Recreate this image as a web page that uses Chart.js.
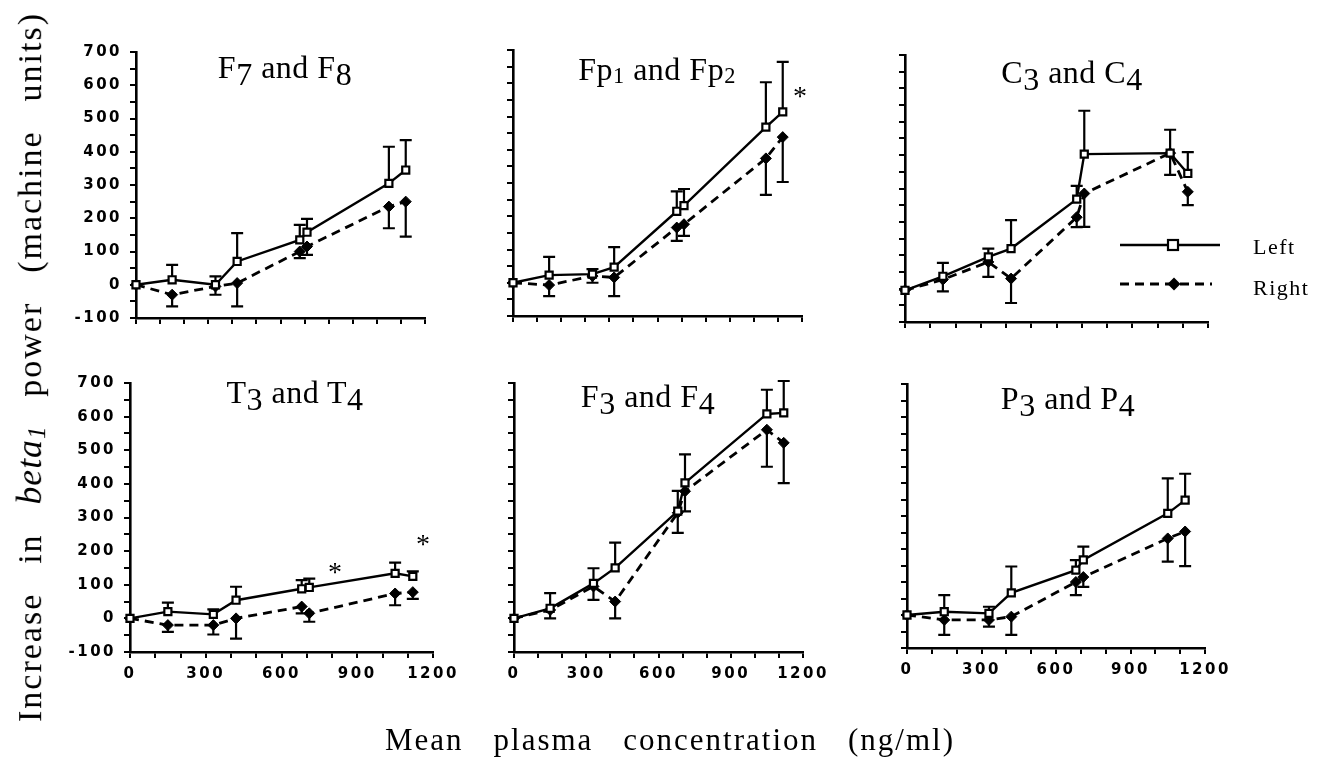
<!DOCTYPE html>
<html><head><meta charset="utf-8">
<script src="https://cdn.jsdelivr.net/npm/chart.js@4.4.1/dist/chart.umd.min.js"></script>
<style>
html,body{margin:0;padding:0;background:#fff;}
#wrap{position:relative;width:1326px;height:759px;overflow:hidden;background:#fff;}
canvas{position:absolute;left:0;top:0;}
.ttl{position:absolute;font-family:'Liberation Serif',serif;font-size:32px;letter-spacing:0.5px;color:#000;white-space:nowrap;transform:translate(-50%,-50%);line-height:1;}
.ttl .d{font-size:100%;position:relative;top:0.22em;}
.ttl .s{font-size:70%;position:relative;top:0.12em;}
#ylab{position:absolute;left:30px;top:367px;width:710px;font-family:'Liberation Serif',serif;font-size:34px;letter-spacing:2px;line-height:1;text-align:justify;text-align-last:justify;white-space:nowrap;transform:translate(-50%,-50%) rotate(-90deg);}
#ylab i{font-size:105%;letter-spacing:1px;}
#ylab i .s{font-size:70%;position:relative;top:0.15em;}
#xlab{position:absolute;left:670px;top:739px;width:570px;font-family:'Liberation Serif',serif;font-size:31px;letter-spacing:2px;line-height:1;text-align:justify;text-align-last:justify;white-space:nowrap;transform:translate(-50%,-50%);}
.leg{position:absolute;font-family:'Liberation Serif',serif;font-size:22px;letter-spacing:1.5px;line-height:1;transform:translateY(-50%);}
svg{position:absolute;left:0;top:0;}
</style></head>
<body><div id="wrap"></div>
<script>
// ---------- data ----------
const concentration = [0, 150, 330, 420, 680, 710, 1050, 1120];
const yTickLabels = ['-100','0','100','200','300','400','500','600','700'];
const xTickLabels = ['0','300','600','900','1200'];
const seriesNames = ['Left','Right'];

const f7Left      = [0, 15, 0, 70, 135, 158, 305, 345];
const f7LeftErr   = [0, 45, 25, 85, 45, 40, 110, 90];
const f7Right     = [0, -30, -5, 5, 100, 115, 235, 250];
const f7RightErr  = [0, 35, 25, 70, 20, 25, 65, 105];

const fpLeft      = [0, 23, 26, 47, 215, 232, 468, 514];
const fpLeftErr   = [0, 55, 15, 60, 60, 50, 135, 150];
const fpRight     = [0, -7, 20, 16, 166, 176, 374, 438];
const fpRightErr  = [0, 33, 20, 56, 40, 35, 110, 135];

const c3Left      = [-5, 37, 95, 120, 268, 403, 406, 345];
const c3LeftErr   = [0, 40, 25, 85, 40, 130, 70, 64];
const c3Right     = [-5, 27, 80, 30, 214, 285, 406, 290];
const c3RightErr  = [0, 35, 45, 73, 30, 100, 65, 40];

const t3Left      = [0, 20, 12, 54, 88, 92, 134, 125];
const t3LeftErr   = [0, 27, 15, 40, 26, 26, 32, 15];
const t3Right     = [0, -20, -20, 0, 35, 15, 74, 78];
const t3RightErr  = [0, 20, 28, 60, 20, 25, 35, 20];

const f3Left      = [0, 30, 104, 150, 319, 403, 608, 611];
const f3LeftErr   = [0, 45, 45, 75, 60, 85, 72, 95];
const f3Right     = [0, 25, 95, 50, 314, 378, 561, 522];
const f3RightErr  = [0, 25, 40, 50, 60, 60, 110, 120];

const p3Left      = [0, 10, 5, 67, 136, 167, 308, 348];
const p3LeftErr   = [0, 50, 20, 80, 30, 40, 106, 80];
const p3Right     = [0, -15, -15, -5, 100, 115, 232, 253];
const p3RightErr  = [0, 45, 20, 55, 40, 30, 70, 105];

// significance marks: [x, y] in data units
const fpStars = [[1192, 572]];
const t3Stars = [[812, 148], [1160, 230]];

// ---------- layout ----------
const W = 1326, H = 759, YW = 80, XH = 40;
const panels = [
  {t:['F','7',' and F','8','d'], tx:285, ty:67, box:[136,425,52,318], L:f7Left, LE:f7LeftErr, R:f7Right, RE:f7RightErr, showY:true, showX:false, stars:[]},
  {t:['Fp','1',' and Fp','2','s'], tx:657, ty:69, box:[513,802,50,316], L:fpLeft, LE:fpLeftErr, R:fpRight, RE:fpRightErr, showY:false, showX:false, stars:fpStars},
  {t:['C','3',' and C','4','d'], tx:1072, ty:72, box:[905,1208,55,322], L:c3Left, LE:c3LeftErr, R:c3Right, RE:c3RightErr, showY:false, showX:false, stars:[]},
  {t:['T','3',' and T','4','d'], tx:295, ty:392, box:[130,433,383,652], L:t3Left, LE:t3LeftErr, R:t3Right, RE:t3RightErr, showY:true, showX:true, stars:t3Stars},
  {t:['F','3',' and F','4','d'], tx:648, ty:396, box:[514,803,383,652], L:f3Left, LE:f3LeftErr, R:f3Right, RE:f3RightErr, showY:false, showX:true, stars:[]},
  {t:['P','3',' and P','4','d'], tx:1068, ty:398, box:[907,1205,384,648], L:p3Left, LE:p3LeftErr, R:p3Right, RE:p3RightErr, showY:false, showX:true, stars:[]}
];

const extras = {
  id:'extras',
  beforeDraw(chart){ chart.ctx.letterSpacing = '2.5px'; },
  beforeDatasetsDraw(chart){
    const {ctx, scales:{x,y}} = chart;
    ctx.save(); ctx.strokeStyle='#000'; ctx.lineWidth=2.2; ctx.setLineDash([]);
    chart.data.datasets.forEach(ds=>{
      ds.data.forEach((p,i)=>{
        const e = ds.err[i]; if(!e) return;
        const px = x.getPixelForValue(p.x), py = y.getPixelForValue(p.y), pe = y.getPixelForValue(p.y + ds.errDir*e);
        ctx.beginPath(); ctx.moveTo(px,py); ctx.lineTo(px,pe);
        ctx.moveTo(px-6,pe); ctx.lineTo(px+6,pe); ctx.stroke();
      });
    });
    ctx.restore();
  },
  afterDatasetsDraw(chart){
    const {ctx, scales:{x,y}} = chart;
    const stars = chart.options.plugins.extras.stars;
    ctx.save(); ctx.letterSpacing='0px'; ctx.fillStyle='#000';
    ctx.font = '28px "Liberation Serif", serif'; ctx.textAlign='center'; ctx.textBaseline='middle';
    stars.forEach(s=>ctx.fillText('*', x.getPixelForValue(s[0]), y.getPixelForValue(s[1])+5));
    ctx.restore();
  }
};

const wrap = document.getElementById('wrap');
panels.forEach((p)=>{
  const cv = document.createElement('canvas');
  cv.width = W; cv.height = H; cv.style.width = W+'px'; cv.style.height = H+'px';
  wrap.appendChild(cv);
  const [L,R,T,B] = p.box;
  const mk = (arr)=>arr.map((v,i)=>({x:concentration[i], y:v}));
  new Chart(cv, {
    type:'line',
    data:{datasets:[
      {label:seriesNames[0], data:mk(p.L), err:p.LE, errDir:1, borderColor:'#000', borderWidth:2.4, backgroundColor:'#fff',
       pointStyle:'rect', pointRadius:5, pointBorderWidth:2.2, pointBackgroundColor:'#fff', pointBorderColor:'#000', clip:false, tension:0},
      {label:seriesNames[1], data:mk(p.R), err:p.RE, errDir:-1, borderColor:'#000', borderWidth:2.8, borderDash:[9,6], backgroundColor:'#000',
       pointStyle:'rectRot', pointRadius:5.5, pointBorderWidth:1, pointBackgroundColor:'#000', pointBorderColor:'#000', clip:false, tension:0}
    ]},
    options:{
      responsive:false, animation:false, devicePixelRatio:1,
      layout:{padding:{left:L-YW, right:W-R, top:T, bottom:H-B-XH}},
      plugins:{legend:{display:false}, tooltip:{enabled:false}, title:{display:false}, extras:{stars:p.stars}},
      scales:{
        x:{type:'linear', min:0, max:1200,
          ticks:{stepSize:100, autoSkip:false, maxRotation:0, padding:7, color:'#000', font:{family:'DejaVu Sans', size:15, weight:'bold'},
            callback:(v)=> (p.showX && xTickLabels.includes(String(v))) ? String(v) : ''},
          grid:{drawOnChartArea:false, drawTicks:true, tickLength:6, color:'#000', lineWidth:2},
          border:{display:true, color:'#000', width:2.6},
          afterFit(s){ s.height = XH; s.paddingLeft=0; s.paddingRight=0; }},
        y:{type:'linear', min:-100, max:700,
          ticks:{stepSize:50, autoSkip:false, padding:8, color:'#000', font:{family:'DejaVu Sans', size:15, weight:'bold'},
            callback:(v)=> (p.showY && yTickLabels.includes(String(v))) ? String(v) : ''},
          grid:{drawOnChartArea:false, drawTicks:true, tickLength:6, color:'#000', lineWidth:2},
          border:{display:true, color:'#000', width:2.6},
          afterFit(s){ s.width = YW; s.paddingTop=0; s.paddingBottom=0; }}
      }
    },
    plugins:[extras]
  });
  const t = document.createElement('div');
  t.className='ttl'; t.style.left=p.tx+'px'; t.style.top=p.ty+'px';
  const cls = p.t[4];
  t.innerHTML = p.t[0]+'<span class="'+cls+'">'+p.t[1]+'</span>'+p.t[2]+'<span class="'+cls+'">'+p.t[3]+'</span>';
  wrap.appendChild(t);
});

// axis titles
const yl = document.createElement('div'); yl.id='ylab';
yl.innerHTML = 'Increase in <i>beta<span class="s">1</span></i> power (machine units)';
wrap.appendChild(yl);
const xl = document.createElement('div'); xl.id='xlab';
xl.textContent = 'Mean plasma concentration (ng/ml)';
wrap.appendChild(xl);

// legend
const svgNS='http://www.w3.org/2000/svg';
const svg=document.createElementNS(svgNS,'svg'); svg.setAttribute('width',W); svg.setAttribute('height',H);
svg.innerHTML =
 '<line x1="1120" y1="245" x2="1220" y2="245" stroke="#000" stroke-width="2.4"/>'+
 '<rect x="1168" y="240" width="10" height="10" fill="#fff" stroke="#000" stroke-width="2.2"/>'+
 '<line x1="1120" y1="284" x2="1212" y2="284" stroke="#000" stroke-width="2.8" stroke-dasharray="9,6"/>'+
 '<polygon points="1174,277.5 1180.5,284 1174,290.5 1167.5,284" fill="#000"/>';
wrap.appendChild(svg);
[[seriesNames[0],1253,247],[seriesNames[1],1253,288]].forEach(([txt,x,y])=>{
  const d=document.createElement('div'); d.className='leg'; d.style.left=x+'px'; d.style.top=y+'px'; d.textContent=txt; wrap.appendChild(d);
});
</script></body></html>
